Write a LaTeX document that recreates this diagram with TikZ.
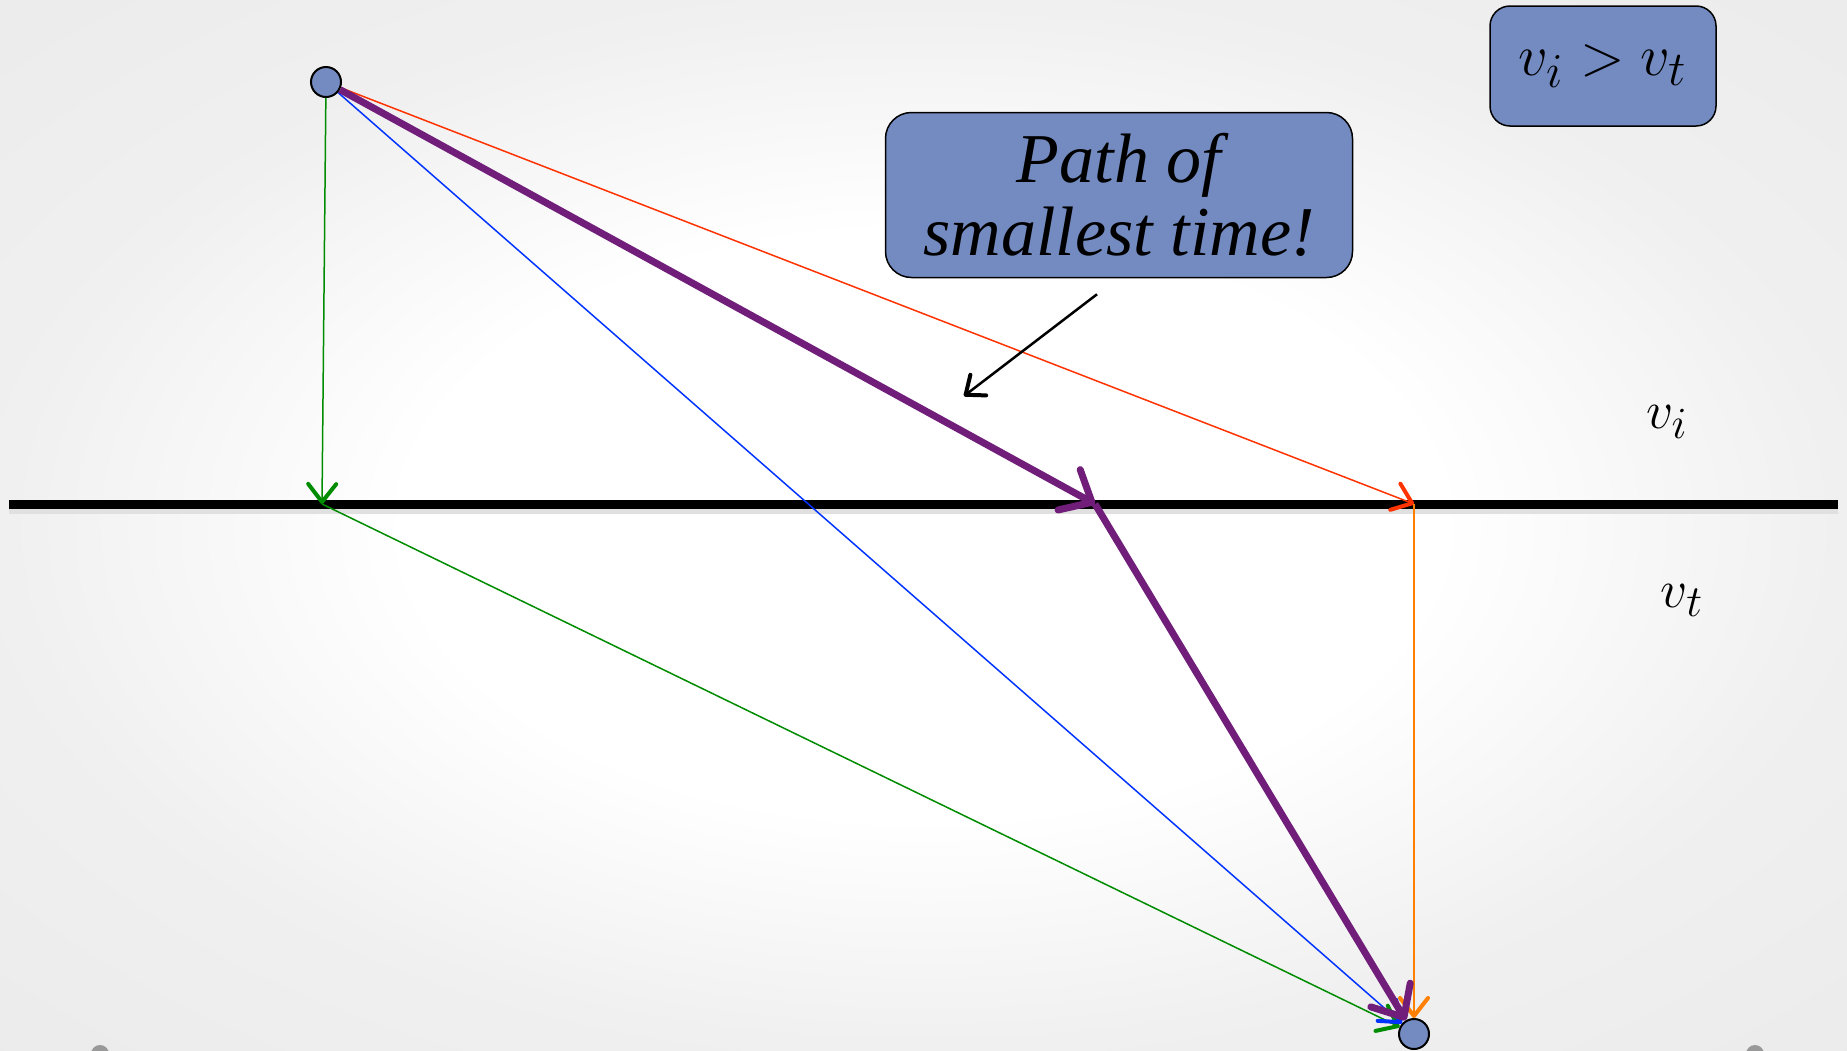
\documentclass[tikz,border=0pt]{standalone}
\usepackage{amsmath}
\usepackage{graphicx}
\usepackage{fontspec}
\setmainfont{Liberation Serif}
\usepackage{xcolor}
\usepackage{tikz}
\usetikzlibrary{arrows.meta, positioning}
\definecolor{boxblue}{RGB}{116,139,193}
\definecolor{rayred}{RGB}{255,51,0}
\definecolor{rayorange}{RGB}{255,128,0}
\definecolor{raygreen}{RGB}{0,140,0}
\definecolor{rayblue}{RGB}{0,51,255}
\definecolor{raypurple}{RGB}{112,30,122}
\pgfdeclareradialshading{slidebg}{\pgfpoint{0bp}{0bp}}{color(0bp)=(white); color(14bp)=(white); color(25bp)=(black!6); color(50bp)=(black!10)}
\def\lineY{504}
\def\dotSize{30pt}
\def\thinW{1.5pt}
\newcommand{\bigmath}[2]{\scalebox{#1}{\Huge$#2$}}

\begin{document}
\begin{tikzpicture}[
    x=1pt, y=-1pt,
    >={Straight Barb[length=18pt, width=28pt, line width=4pt, round]},
    every node/.style={inner sep=0pt},
    dot/.style={circle, draw, line width=2pt, fill=boxblue, minimum size=\dotSize},
    callout/.style={draw, line width=1.5pt, fill=boxblue, rounded corners=26pt, align=center},
    thinray/.style={line width=\thinW},
    fastray/.style={line width=7pt, raypurple,
        -{Straight Barb[length=26pt, width=46pt, line width=7pt, round]}}
]
\useasboundingbox (0,0) rectangle (1847,1050);
\shade[shading=slidebg] (0,0) rectangle (1847,1050);
\fill[black!40] (100,1054) circle (9pt);
\fill[black!40] (1755,1054) circle (9pt);

% boundary between the two media
\draw[line width=5pt, black!12] (9,\lineY+7) -- (1838,\lineY+7);
\draw[line width=9pt] (9,\lineY) -- (1838,\lineY);

\node[dot] (src) at (326,82) {};
\node[dot] (dst) at (1414,1034) {};
\coordinate (g) at (322,\lineY);
\coordinate (p) at (1095,\lineY);
\coordinate (r) at (1414,\lineY);

\node[callout, minimum width=467pt, minimum height=165pt,
      font=\fontsize{70}{73}\selectfont\itshape] (note) at (1119,195)
      {Path of\\smallest time!};
\node[callout, rounded corners=20pt, minimum width=226pt, minimum height=120pt]
      (cond) at (1603,66) {\bigmath{2.35}{v_i > v_t}};
\node (vi) at (1667,422) {\bigmath{2.15}{v_i}};
\node (vt) at (1682,600) {\bigmath{2.15}{v_t}};

% rays
\draw[->, thinray, raygreen] (src) -- (g);
\draw[->, thinray, raygreen] (g) -- (dst);
\draw[->, thinray, rayblue] (src) -- (dst);
\draw[->, thinray, rayred] (src) -- (r);
\draw[->, thinray, rayorange] (r) -- (dst);
\draw[fastray] (src) -- (p);
\draw[fastray] (p) -- (dst);

\coordinate (tip) at (964,396);
\draw[-{Straight Barb[length=16pt, width=26pt, line width=4pt, round]}, line width=2.5pt]
    ([xshift=-22pt,yshift=-16pt]note.south) -- (tip);
\end{tikzpicture}
\end{document}
